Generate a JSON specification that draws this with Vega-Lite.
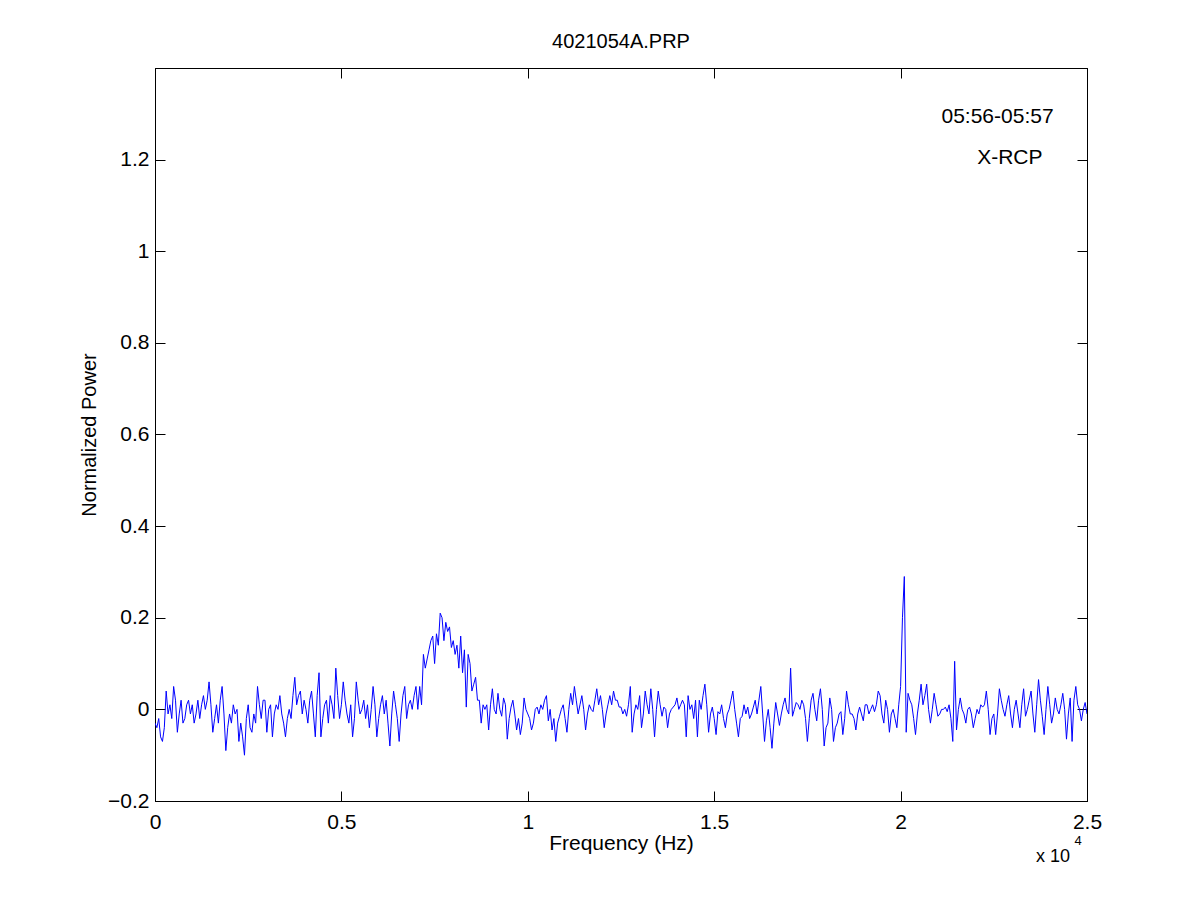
{
  "$schema": "https://vega.github.io/schema/vega-lite/v6.json",
  "width": 932,
  "height": 733,
  "autosize": "none",
  "padding": {"left": 155, "top": 68, "right": 114, "bottom": 100},
  "background": "white",
  "title": {"text": "4021054A.PRP", "font": "Liberation Sans", "fontSize": 20, "fontWeight": "normal", "color": "black", "offset": 16},
  "config": {
    "view": {"stroke": "black", "strokeWidth": 1},
    "axis": {
      "grid": false,
      "labelFont": "Liberation Sans",
      "labelFontSize": 21,
      "labelColor": "black",
      "labelFlush": false,
      "titleFont": "Liberation Sans",
      "titleFontSize": 21,
      "titleFontWeight": "normal",
      "titleColor": "black",
      "tickColor": "black",
      "domainColor": "black",
      "tickSize": -10
    }
  },
  "datasets": {
    "spectrum": [
      {"f":0.000,"p":-0.03},{"f":0.005,"p":-0.04},{"f":0.010,"p":-0.02},{"f":0.015,"p":-0.06},{"f":0.020,"p":-0.07},
      {"f":0.025,"p":-0.04},{"f":0.030,"p":0.04},{"f":0.035,"p":-0.01},{"f":0.040,"p":0.01},{"f":0.045,"p":-0.02},
      {"f":0.050,"p":0.05},{"f":0.055,"p":0.02},{"f":0.060,"p":-0.05},{"f":0.065,"p":-0.01},{"f":0.070,"p":0.02},
      {"f":0.075,"p":-0.03},{"f":0.080,"p":-0.02},{"f":0.085,"p":0.01},{"f":0.090,"p":0.02},{"f":0.095,"p":-0.01},
      {"f":0.100,"p":0.01},{"f":0.105,"p":-0.03},{"f":0.110,"p":-0.01},{"f":0.115,"p":0.02},{"f":0.120,"p":-0.02},
      {"f":0.125,"p":0.01},{"f":0.130,"p":0.03},{"f":0.135,"p":0.00},{"f":0.140,"p":0.02},{"f":0.145,"p":0.06},
      {"f":0.150,"p":0.01},{"f":0.155,"p":-0.05},{"f":0.160,"p":-0.02},{"f":0.165,"p":0.01},{"f":0.170,"p":-0.03},
      {"f":0.175,"p":0.02},{"f":0.180,"p":0.05},{"f":0.185,"p":-0.01},{"f":0.190,"p":-0.09},{"f":0.195,"p":-0.04},
      {"f":0.200,"p":-0.01},{"f":0.205,"p":-0.03},{"f":0.210,"p":0.01},{"f":0.215,"p":-0.01},{"f":0.220,"p":0.00},
      {"f":0.225,"p":-0.07},{"f":0.230,"p":-0.03},{"f":0.235,"p":-0.06},{"f":0.240,"p":-0.10},{"f":0.245,"p":-0.02},
      {"f":0.250,"p":0.01},{"f":0.255,"p":-0.04},{"f":0.260,"p":-0.05},{"f":0.265,"p":-0.01},{"f":0.270,"p":-0.03},
      {"f":0.275,"p":0.05},{"f":0.280,"p":0.01},{"f":0.285,"p":-0.02},{"f":0.290,"p":0.02},{"f":0.295,"p":0.02},
      {"f":0.300,"p":-0.05},{"f":0.305,"p":0.00},{"f":0.310,"p":0.01},{"f":0.315,"p":-0.06},{"f":0.320,"p":-0.01},
      {"f":0.325,"p":0.01},{"f":0.330,"p":0.00},{"f":0.335,"p":0.03},{"f":0.340,"p":-0.01},{"f":0.345,"p":-0.03},
      {"f":0.350,"p":-0.06},{"f":0.355,"p":-0.02},{"f":0.360,"p":0.00},{"f":0.365,"p":-0.02},{"f":0.370,"p":0.03},
      {"f":0.375,"p":0.07},{"f":0.380,"p":0.01},{"f":0.385,"p":0.03},{"f":0.390,"p":0.04},{"f":0.395,"p":-0.01},
      {"f":0.400,"p":0.02},{"f":0.405,"p":0.00},{"f":0.410,"p":-0.03},{"f":0.415,"p":0.02},{"f":0.420,"p":0.04},
      {"f":0.425,"p":-0.01},{"f":0.430,"p":-0.06},{"f":0.435,"p":0.03},{"f":0.440,"p":0.08},{"f":0.445,"p":-0.06},
      {"f":0.450,"p":-0.02},{"f":0.455,"p":0.01},{"f":0.460,"p":0.02},{"f":0.465,"p":-0.03},{"f":0.470,"p":0.03},
      {"f":0.475,"p":0.01},{"f":0.480,"p":-0.02},{"f":0.485,"p":0.09},{"f":0.490,"p":0.03},{"f":0.495,"p":-0.02},
      {"f":0.500,"p":0.01},{"f":0.505,"p":0.06},{"f":0.510,"p":0.02},{"f":0.515,"p":-0.01},{"f":0.520,"p":-0.03},
      {"f":0.525,"p":0.01},{"f":0.530,"p":-0.06},{"f":0.535,"p":-0.02},{"f":0.540,"p":0.06},{"f":0.545,"p":0.02},
      {"f":0.550,"p":-0.01},{"f":0.555,"p":0.00},{"f":0.560,"p":0.02},{"f":0.565,"p":-0.02},{"f":0.570,"p":0.01},
      {"f":0.575,"p":-0.04},{"f":0.580,"p":0.00},{"f":0.585,"p":0.05},{"f":0.590,"p":0.01},{"f":0.595,"p":-0.06},
      {"f":0.600,"p":-0.02},{"f":0.605,"p":0.01},{"f":0.610,"p":0.03},{"f":0.615,"p":-0.01},{"f":0.620,"p":0.02},
      {"f":0.625,"p":-0.03},{"f":0.630,"p":-0.08},{"f":0.635,"p":-0.01},{"f":0.640,"p":0.04},{"f":0.645,"p":0.01},
      {"f":0.650,"p":-0.02},{"f":0.655,"p":-0.07},{"f":0.660,"p":-0.01},{"f":0.665,"p":0.03},{"f":0.670,"p":0.05},
      {"f":0.675,"p":-0.02},{"f":0.680,"p":0.01},{"f":0.685,"p":0.02},{"f":0.690,"p":0.00},{"f":0.695,"p":0.03},
      {"f":0.700,"p":0.05},{"f":0.705,"p":0.00},{"f":0.710,"p":0.05},{"f":0.715,"p":0.01},{"f":0.720,"p":0.12},
      {"f":0.725,"p":0.09},{"f":0.730,"p":0.11},{"f":0.735,"p":0.13},{"f":0.740,"p":0.15},{"f":0.745,"p":0.16},
      {"f":0.750,"p":0.10},{"f":0.755,"p":0.165},{"f":0.760,"p":0.14},{"f":0.765,"p":0.21},{"f":0.770,"p":0.20},
      {"f":0.775,"p":0.15},{"f":0.780,"p":0.19},{"f":0.785,"p":0.17},{"f":0.790,"p":0.18},{"f":0.795,"p":0.135},
      {"f":0.800,"p":0.15},{"f":0.805,"p":0.12},{"f":0.810,"p":0.14},{"f":0.815,"p":0.09},{"f":0.820,"p":0.16},
      {"f":0.825,"p":0.08},{"f":0.830,"p":0.13},{"f":0.835,"p":0.005},{"f":0.840,"p":0.12},{"f":0.845,"p":0.10},
      {"f":0.850,"p":0.04},{"f":0.855,"p":0.055},{"f":0.860,"p":0.07},{"f":0.865,"p":0.02},{"f":0.870,"p":0.02},
      {"f":0.875,"p":-0.03},{"f":0.880,"p":0.01},{"f":0.885,"p":0.00},{"f":0.890,"p":0.01},{"f":0.895,"p":-0.045},
      {"f":0.900,"p":0.01},{"f":0.905,"p":0.045},{"f":0.910,"p":0.00},{"f":0.915,"p":-0.01},{"f":0.920,"p":0.035},
      {"f":0.925,"p":0.00},{"f":0.930,"p":-0.015},{"f":0.935,"p":0.025},{"f":0.940,"p":0.01},{"f":0.945,"p":-0.065},
      {"f":0.950,"p":-0.02},{"f":0.955,"p":0.005},{"f":0.960,"p":0.02},{"f":0.965,"p":-0.01},{"f":0.970,"p":-0.045},
      {"f":0.975,"p":-0.02},{"f":0.980,"p":-0.055},{"f":0.985,"p":-0.03},{"f":0.990,"p":0.025},{"f":0.995,"p":0.00},
      {"f":1.000,"p":-0.01},{"f":1.005,"p":-0.02},{"f":1.010,"p":-0.045},{"f":1.015,"p":-0.03},{"f":1.020,"p":0.00},
      {"f":1.025,"p":0.005},{"f":1.030,"p":-0.01},{"f":1.035,"p":0.01},{"f":1.040,"p":0.00},{"f":1.045,"p":0.02},
      {"f":1.050,"p":0.03},{"f":1.055,"p":-0.025},{"f":1.060,"p":0.00},{"f":1.065,"p":-0.045},{"f":1.070,"p":-0.02},
      {"f":1.075,"p":-0.07},{"f":1.080,"p":-0.03},{"f":1.085,"p":-0.015},{"f":1.090,"p":0.00},{"f":1.095,"p":0.01},
      {"f":1.100,"p":-0.02},{"f":1.105,"p":-0.05},{"f":1.110,"p":0.00},{"f":1.115,"p":0.035},{"f":1.120,"p":0.01},
      {"f":1.125,"p":0.05},{"f":1.130,"p":0.02},{"f":1.135,"p":-0.01},{"f":1.140,"p":0.01},{"f":1.145,"p":0.03},
      {"f":1.150,"p":0.00},{"f":1.155,"p":-0.045},{"f":1.160,"p":-0.01},{"f":1.165,"p":0.01},{"f":1.170,"p":0.00},
      {"f":1.175,"p":-0.005},{"f":1.180,"p":0.02},{"f":1.185,"p":0.045},{"f":1.190,"p":0.01},{"f":1.195,"p":0.03},
      {"f":1.200,"p":0.00},{"f":1.205,"p":-0.04},{"f":1.210,"p":-0.01},{"f":1.215,"p":0.01},{"f":1.220,"p":0.03},
      {"f":1.225,"p":0.01},{"f":1.230,"p":0.04},{"f":1.235,"p":0.02},{"f":1.240,"p":0.02},{"f":1.245,"p":0.005},
      {"f":1.250,"p":0.005},{"f":1.255,"p":-0.01},{"f":1.260,"p":0.00},{"f":1.265,"p":-0.015},{"f":1.270,"p":0.01},
      {"f":1.275,"p":0.05},{"f":1.280,"p":-0.05},{"f":1.285,"p":-0.01},{"f":1.290,"p":0.01},{"f":1.295,"p":0.00},
      {"f":1.300,"p":0.03},{"f":1.305,"p":-0.04},{"f":1.310,"p":-0.01},{"f":1.315,"p":0.04},{"f":1.320,"p":0.01},
      {"f":1.325,"p":-0.01},{"f":1.330,"p":0.045},{"f":1.335,"p":0.00},{"f":1.340,"p":-0.06},{"f":1.345,"p":0.00},
      {"f":1.350,"p":0.04},{"f":1.355,"p":0.01},{"f":1.360,"p":-0.015},{"f":1.365,"p":0.005},{"f":1.370,"p":0.00},
      {"f":1.375,"p":-0.04},{"f":1.380,"p":-0.01},{"f":1.385,"p":0.00},{"f":1.390,"p":0.005},{"f":1.395,"p":0.01},
      {"f":1.400,"p":0.025},{"f":1.405,"p":0.00},{"f":1.410,"p":0.01},{"f":1.415,"p":0.02},{"f":1.420,"p":0.01},
      {"f":1.425,"p":-0.06},{"f":1.430,"p":0.03},{"f":1.435,"p":0.00},{"f":1.440,"p":0.01},{"f":1.445,"p":-0.02},
      {"f":1.450,"p":0.02},{"f":1.455,"p":-0.06},{"f":1.460,"p":0.02},{"f":1.465,"p":0.00},{"f":1.470,"p":0.03},
      {"f":1.475,"p":0.055},{"f":1.480,"p":0.01},{"f":1.485,"p":-0.05},{"f":1.490,"p":-0.01},{"f":1.495,"p":0.005},
      {"f":1.500,"p":-0.02},{"f":1.505,"p":-0.055},{"f":1.510,"p":-0.005},{"f":1.515,"p":-0.01},{"f":1.520,"p":0.01},
      {"f":1.525,"p":-0.02},{"f":1.530,"p":-0.04},{"f":1.535,"p":-0.01},{"f":1.540,"p":0.00},{"f":1.545,"p":0.02},
      {"f":1.550,"p":0.04},{"f":1.555,"p":0.00},{"f":1.560,"p":-0.03},{"f":1.565,"p":-0.06},{"f":1.570,"p":-0.02},
      {"f":1.575,"p":-0.015},{"f":1.580,"p":0.01},{"f":1.585,"p":-0.01},{"f":1.590,"p":0.005},{"f":1.595,"p":-0.02},
      {"f":1.600,"p":-0.01},{"f":1.605,"p":0.005},{"f":1.610,"p":0.02},{"f":1.615,"p":-0.01},{"f":1.620,"p":0.02},
      {"f":1.625,"p":0.05},{"f":1.630,"p":-0.01},{"f":1.635,"p":-0.07},{"f":1.640,"p":-0.025},{"f":1.645,"p":0.00},
      {"f":1.650,"p":-0.04},{"f":1.655,"p":-0.085},{"f":1.660,"p":-0.03},{"f":1.665,"p":0.015},{"f":1.670,"p":-0.01},
      {"f":1.675,"p":-0.035},{"f":1.680,"p":-0.01},{"f":1.685,"p":0.01},{"f":1.690,"p":0.025},{"f":1.695,"p":0.00},
      {"f":1.700,"p":-0.01},{"f":1.705,"p":0.09},{"f":1.710,"p":-0.015},{"f":1.715,"p":0.00},{"f":1.720,"p":0.015},
      {"f":1.725,"p":0.01},{"f":1.730,"p":0.00},{"f":1.735,"p":0.02},{"f":1.740,"p":0.01},{"f":1.745,"p":-0.02},
      {"f":1.750,"p":-0.07},{"f":1.755,"p":-0.02},{"f":1.760,"p":0.02},{"f":1.765,"p":0.035},{"f":1.770,"p":0.00},
      {"f":1.775,"p":-0.025},{"f":1.780,"p":0.02},{"f":1.785,"p":0.045},{"f":1.790,"p":0.00},{"f":1.795,"p":-0.08},
      {"f":1.800,"p":-0.04},{"f":1.805,"p":-0.03},{"f":1.810,"p":0.025},{"f":1.815,"p":0.00},{"f":1.820,"p":-0.07},
      {"f":1.825,"p":-0.04},{"f":1.830,"p":-0.03},{"f":1.835,"p":-0.01},{"f":1.840,"p":-0.005},{"f":1.845,"p":-0.055},
      {"f":1.850,"p":-0.02},{"f":1.855,"p":0.04},{"f":1.860,"p":0.01},{"f":1.865,"p":-0.01},{"f":1.870,"p":-0.01},
      {"f":1.875,"p":-0.02},{"f":1.880,"p":-0.045},{"f":1.885,"p":-0.01},{"f":1.890,"p":0.005},{"f":1.895,"p":-0.01},
      {"f":1.900,"p":-0.025},{"f":1.905,"p":0.01},{"f":1.910,"p":0.01},{"f":1.915,"p":-0.01},{"f":1.920,"p":0.00},
      {"f":1.925,"p":0.01},{"f":1.930,"p":-0.005},{"f":1.935,"p":0.01},{"f":1.940,"p":0.04},{"f":1.945,"p":0.03},
      {"f":1.950,"p":-0.01},{"f":1.955,"p":-0.03},{"f":1.960,"p":0.02},{"f":1.965,"p":0.00},{"f":1.970,"p":-0.05},
      {"f":1.975,"p":-0.01},{"f":1.980,"p":0.00},{"f":1.985,"p":-0.02},{"f":1.990,"p":-0.04},{"f":1.995,"p":0.01},
      {"f":2.000,"p":0.05},{"f":2.005,"p":0.20},{"f":2.010,"p":0.29},{"f":2.015,"p":-0.05},{"f":2.020,"p":0.035},
      {"f":2.025,"p":0.02},{"f":2.030,"p":0.01},{"f":2.035,"p":-0.02},{"f":2.040,"p":-0.055},{"f":2.045,"p":-0.01},
      {"f":2.050,"p":0.02},{"f":2.055,"p":0.055},{"f":2.060,"p":0.01},{"f":2.065,"p":0.03},{"f":2.070,"p":0.055},
      {"f":2.075,"p":0.00},{"f":2.080,"p":-0.03},{"f":2.085,"p":0.00},{"f":2.090,"p":0.035},{"f":2.095,"p":0.01},
      {"f":2.100,"p":-0.015},{"f":2.105,"p":-0.01},{"f":2.110,"p":0.00},{"f":2.115,"p":0.00},{"f":2.120,"p":0.005},
      {"f":2.125,"p":-0.005},{"f":2.130,"p":0.01},{"f":2.135,"p":-0.02},{"f":2.140,"p":-0.07},{"f":2.145,"p":0.105},
      {"f":2.150,"p":-0.045},{"f":2.155,"p":0.00},{"f":2.160,"p":0.025},{"f":2.165,"p":0.00},{"f":2.170,"p":-0.01},
      {"f":2.175,"p":-0.03},{"f":2.180,"p":0.00},{"f":2.185,"p":0.005},{"f":2.190,"p":-0.01},{"f":2.195,"p":-0.04},
      {"f":2.200,"p":-0.02},{"f":2.205,"p":0.00},{"f":2.210,"p":-0.01},{"f":2.215,"p":0.01},{"f":2.220,"p":0.005},
      {"f":2.225,"p":0.01},{"f":2.230,"p":0.04},{"f":2.235,"p":0.00},{"f":2.240,"p":-0.055},{"f":2.245,"p":-0.02},
      {"f":2.250,"p":-0.01},{"f":2.255,"p":-0.055},{"f":2.260,"p":-0.01},{"f":2.265,"p":0.045},{"f":2.270,"p":0.02},
      {"f":2.275,"p":0.00},{"f":2.280,"p":-0.015},{"f":2.285,"p":0.01},{"f":2.290,"p":0.03},{"f":2.295,"p":-0.01},
      {"f":2.300,"p":-0.04},{"f":2.305,"p":0.00},{"f":2.310,"p":0.02},{"f":2.315,"p":-0.01},{"f":2.320,"p":-0.04},
      {"f":2.325,"p":0.01},{"f":2.330,"p":0.045},{"f":2.335,"p":-0.015},{"f":2.340,"p":0.00},{"f":2.345,"p":0.02},
      {"f":2.350,"p":0.04},{"f":2.355,"p":-0.01},{"f":2.360,"p":-0.05},{"f":2.365,"p":0.01},{"f":2.370,"p":0.065},
      {"f":2.375,"p":0.02},{"f":2.380,"p":-0.015},{"f":2.385,"p":-0.055},{"f":2.390,"p":0.00},{"f":2.395,"p":0.05},
      {"f":2.400,"p":0.01},{"f":2.405,"p":-0.03},{"f":2.410,"p":-0.01},{"f":2.415,"p":0.025},{"f":2.420,"p":0.00},
      {"f":2.425,"p":-0.01},{"f":2.430,"p":0.01},{"f":2.435,"p":0.035},{"f":2.440,"p":0.00},{"f":2.445,"p":-0.065},
      {"f":2.450,"p":-0.01},{"f":2.455,"p":0.025},{"f":2.460,"p":-0.07},{"f":2.465,"p":0.02},{"f":2.470,"p":0.05},
      {"f":2.475,"p":0.01},{"f":2.480,"p":0.00},{"f":2.485,"p":-0.025},{"f":2.490,"p":0.00},{"f":2.495,"p":0.015},
      {"f":2.500,"p":-0.01}
    ],
    "notes": [
      {"x": 2.26, "y": 1.292, "label": "05:56-05:57"},
      {"x": 2.293, "y": 1.203, "label": "X-RCP"}
    ],
    "exponent_base": [
      {"x": 2.409, "y": -0.322, "label": "x 10"}
    ],
    "exponent_power": [
      {"x": 2.476, "y": -0.287, "label": "4"}
    ]
  },
  "resolve": {"axis": {"x": "independent", "y": "independent"}},
  "layer": [
    {
      "data": {"name": "spectrum"},
      "mark": {"type": "line", "color": "#0000ff", "strokeWidth": 1, "clip": true},
      "encoding": {
        "x": {
          "field": "f",
          "type": "quantitative",
          "scale": {"domain": [0, 2.5], "nice": false, "zero": false},
          "axis": {"orient": "bottom", "values": [0, 0.5, 1, 1.5, 2, 2.5], "format": "~g", "labelPadding": 20, "title": "Frequency (Hz)", "titlePadding": 0}
        },
        "y": {
          "field": "p",
          "type": "quantitative",
          "scale": {"domain": [-0.2, 1.4], "nice": false, "zero": false},
          "axis": {"orient": "left", "values": [-0.2, 0, 0.2, 0.4, 0.6, 0.8, 1, 1.2], "format": "~g", "labelPadding": 16, "title": "Normalized Power", "titleFontSize": 20, "titlePadding": 8}
        }
      }
    },
    {
      "data": {"name": "notes"},
      "mark": {"type": "text", "font": "Liberation Sans", "fontSize": 21, "color": "black", "align": "center", "baseline": "middle"},
      "encoding": {
        "x": {
          "field": "x",
          "type": "quantitative",
          "axis": {"orient": "top", "values": [0, 0.5, 1, 1.5, 2, 2.5], "labels": false, "title": null}
        },
        "y": {
          "field": "y",
          "type": "quantitative",
          "axis": {"orient": "right", "values": [-0.2, 0, 0.2, 0.4, 0.6, 0.8, 1, 1.2], "labels": false, "title": null}
        },
        "text": {"field": "label", "type": "nominal"}
      }
    },
    {
      "data": {"name": "exponent_base"},
      "mark": {"type": "text", "font": "Liberation Sans", "fontSize": 18, "color": "black", "align": "center", "baseline": "middle"},
      "encoding": {
        "x": {"field": "x", "type": "quantitative", "axis": null},
        "y": {"field": "y", "type": "quantitative", "axis": null},
        "text": {"field": "label", "type": "nominal"}
      }
    },
    {
      "data": {"name": "exponent_power"},
      "mark": {"type": "text", "font": "Liberation Sans", "fontSize": 13, "color": "black", "align": "center", "baseline": "middle"},
      "encoding": {
        "x": {"field": "x", "type": "quantitative", "axis": null},
        "y": {"field": "y", "type": "quantitative", "axis": null},
        "text": {"field": "label", "type": "nominal"}
      }
    }
  ]
}
